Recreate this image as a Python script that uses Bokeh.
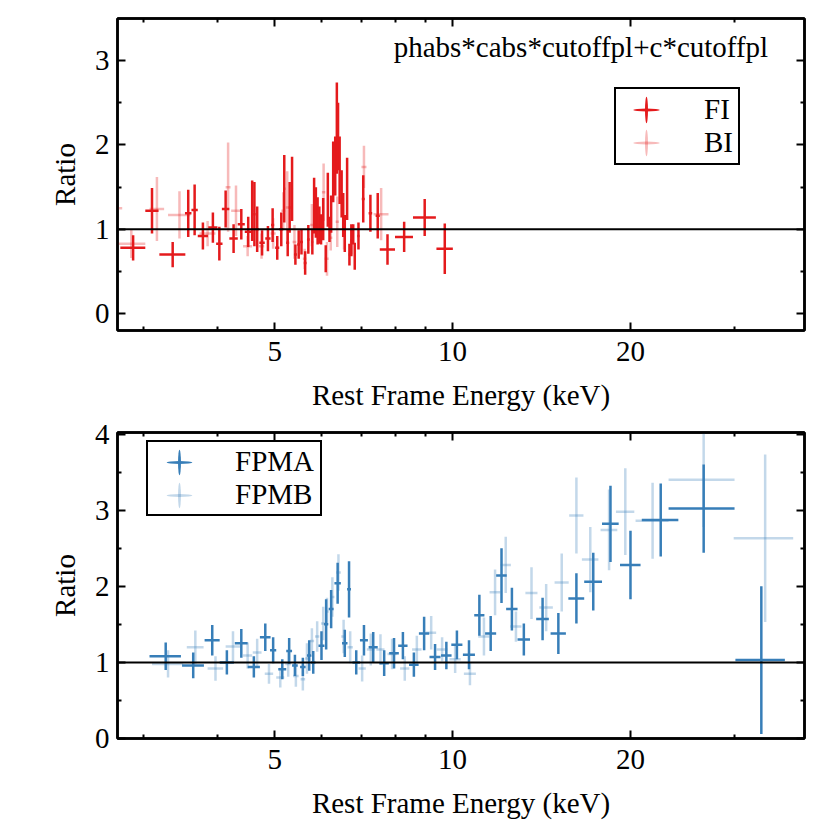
import numpy as np
from bokeh.plotting import figure
from bokeh.models import (ColumnDataSource, Range1d, FixedTicker, LinearAxis, LogAxis,
                          BasicTickFormatter, CustomJSTickFormatter, Span, Legend,
                          LegendItem, Label)
from bokeh.layouts import column
from bokeh.embed import file_html
from bokeh.resources import INLINE

# ---------------- data ----------------
# Top panel: XIS FI
fi_e = [2.88, 3.10, 3.36, 3.57, 3.66, 3.78, 3.93, 4.03, 4.13, 4.26, 4.39, 4.51, 4.58, 4.62,
        4.67, 4.76, 4.87, 4.96, 5.05, 5.13, 5.19, 5.26, 5.30, 5.35, 5.42, 5.49, 5.55, 5.63,
        5.70, 5.79, 5.83, 5.87, 5.91, 5.95, 5.99, 6.04, 6.10, 6.15, 6.19, 6.23, 6.28, 6.33,
        6.37, 6.40, 6.44, 6.49, 6.53, 6.57, 6.63, 6.69, 6.74, 6.79, 6.83, 6.93, 7.06, 7.26,
        7.47, 7.76, 8.28, 8.97, 9.70]
fi_de = [0.14, 0.08, 0.17, 0.045, 0.045, 0.075, 0.07, 0.05, 0.06, 0.07, 0.06, 0.06, 0.02, 0.02,
         0.03, 0.05, 0.05, 0.03, 0.04, 0.04, 0.02, 0.03, 0.02, 0.02, 0.03, 0.03, 0.03, 0.03,
         0.03, 0.02, 0.015, 0.015, 0.015, 0.015, 0.015, 0.02, 0.02, 0.02, 0.015, 0.015, 0.015, 0.015,
         0.015, 0.015, 0.015, 0.015, 0.015, 0.02, 0.02, 0.02, 0.02, 0.02, 0.02, 0.03, 0.04, 0.05,
         0.06, 0.23, 0.29, 0.40, 0.31]
fi_r = [0.78, 1.22, 0.70, 1.19, 1.23, 0.92, 1.02, 0.83, 1.24, 0.89, 1.06, 0.97, 1.22, 1.18,
        1.00, 0.84, 0.89, 1.05, 0.78, 1.00, 1.48, 0.84, 1.26, 1.48, 0.70, 0.82, 0.85, 0.60,
        0.88, 0.85, 1.28, 1.20, 1.10, 1.05, 1.00, 1.12, 0.65, 1.35, 1.00, 1.18, 1.68, 1.75,
        2.20, 2.10, 1.70, 1.42, 1.17, 0.95, 1.48, 0.70, 0.87, 0.94, 0.68, 0.92, 1.36, 1.19,
        1.16, 0.76, 0.91, 1.14, 0.77]
fi_dr = [0.15, 0.27, 0.15, 0.28, 0.30, 0.16, 0.18, 0.20, 0.22, 0.17, 0.18, 0.18, 0.36, 0.38,
         0.27, 0.15, 0.15, 0.20, 0.14, 0.20, 0.40, 0.16, 0.30, 0.38, 0.12, 0.17, 0.15, 0.14,
         0.17, 0.15, 0.33, 0.30, 0.28, 0.22, 0.18, 0.25, 0.16, 0.32, 0.15, 0.22, 0.36, 0.35,
         0.54, 0.40, 0.40, 0.28, 0.26, 0.22, 0.37, 0.13, 0.19, 0.12, 0.16, 0.16, 0.28, 0.22,
         0.27, 0.18, 0.18, 0.22, 0.30]

# Top panel: XIS BI
bi_e = [2.66, 2.86, 3.16, 3.45, 3.85, 4.17, 4.30, 4.50, 4.75, 4.97, 5.17, 5.25, 5.40, 5.62,
        5.78, 6.05, 6.13, 6.22, 6.38, 6.55, 6.75, 7.08, 7.57]
bi_de = [0.10, 0.16, 0.09, 0.15, 0.12, 0.04, 0.08, 0.08, 0.05, 0.05, 0.04, 0.03, 0.04, 0.04,
         0.04, 0.04, 0.04, 0.04, 0.04, 0.05, 0.05, 0.07, 0.22]
bi_r = [1.25, 0.83, 1.24, 1.17, 0.95, 1.50, 1.22, 0.80, 0.80, 0.95, 1.22, 1.26, 0.85, 0.65,
        1.05, 1.44, 0.65, 0.90, 1.09, 0.96, 0.85, 1.74, 1.18]
bi_dr = [0.20, 0.17, 0.38, 0.28, 0.15, 0.53, 0.30, 0.12, 0.15, 0.18, 0.22, 0.43, 0.20, 0.12,
         0.25, 0.34, 0.20, 0.15, 0.30, 0.20, 0.15, 0.25, 0.31]

# Bottom panel: NuSTAR FPMA
fa_e = [3.27, 3.64, 3.92, 4.15, 4.39, 4.61, 4.82, 4.97, 5.15, 5.29, 5.41, 5.58, 5.72, 5.81,
        6.00, 6.11, 6.23, 6.39, 6.57, 6.68, 6.87, 7.08, 7.34, 7.66, 7.96, 8.24, 8.60, 8.95,
        9.34, 9.76, 10.17, 10.66, 11.1, 11.6, 12.1, 12.6, 13.2, 14.2, 15.1, 16.2, 17.3, 18.5,
        20.0, 22.5, 26.6, 33.3]
fa_de = [0.20, 0.155, 0.115, 0.115, 0.11, 0.11, 0.10, 0.06, 0.08, 0.06, 0.06, 0.06, 0.05, 0.05,
         0.07, 0.05, 0.06, 0.08, 0.07, 0.05, 0.10, 0.11, 0.13, 0.14, 0.15, 0.15, 0.16, 0.18,
         0.20, 0.20, 0.22, 0.25, 0.22, 0.25, 0.25, 0.28, 0.32, 0.35, 0.45, 0.50, 0.60, 0.60,
         0.80, 1.60, 3.40, 3.20]
fa_r = [1.08, 0.96, 1.29, 1.00, 1.25, 0.94, 1.33, 1.16, 0.91, 1.15, 0.96, 0.94, 1.09, 1.00,
        1.22, 1.50, 1.70, 2.04, 1.25, 1.96, 1.00, 1.29, 1.20, 0.99, 1.12, 1.22, 0.97, 1.38,
        1.07, 1.09, 1.23, 1.10, 1.62, 1.38, 2.14, 1.70, 1.30, 1.57, 1.38, 1.84, 2.06, 2.82,
        2.28, 2.87, 3.02, 1.03]
fa_dr = [0.18, 0.17, 0.20, 0.16, 0.19, 0.14, 0.18, 0.17, 0.13, 0.17, 0.14, 0.12, 0.20, 0.15,
         0.19, 0.33, 0.25, 0.27, 0.18, 0.37, 0.16, 0.20, 0.20, 0.17, 0.20, 0.18, 0.16, 0.22,
         0.17, 0.18, 0.19, 0.19, 0.27, 0.23, 0.36, 0.28, 0.21, 0.28, 0.27, 0.33, 0.38, 0.50,
         0.45, 0.48, 0.58, 0.97]

# Bottom panel: NuSTAR FPMB
fb_e = [3.30, 3.67, 3.97, 4.25, 4.50, 4.67, 4.89, 5.11, 5.27, 5.43, 5.58, 5.67, 5.78, 5.90,
        6.04, 6.13, 6.26, 6.41, 6.54, 6.71, 7.03, 7.27, 7.55, 7.90, 8.30, 8.70, 9.20, 9.60,
        10.1, 10.7, 11.3, 11.8, 12.3, 12.8, 13.6, 14.4, 15.3, 16.2, 17.1, 18.4, 19.6, 21.8,
        26.6, 33.8]
fb_de = [0.20, 0.12, 0.12, 0.12, 0.08, 0.08, 0.08, 0.08, 0.06, 0.06, 0.05, 0.04, 0.05, 0.05,
         0.05, 0.04, 0.05, 0.06, 0.06, 0.07, 0.10, 0.11, 0.12, 0.14, 0.15, 0.16, 0.18, 0.20,
         0.22, 0.25, 0.25, 0.25, 0.25, 0.28, 0.32, 0.38, 0.42, 0.45, 0.55, 0.60, 0.70, 1.40,
         3.40, 3.90]
fb_r = [0.98, 1.20, 0.92, 1.21, 1.09, 1.13, 0.85, 0.80, 0.98, 0.82, 0.78, 1.05, 1.28, 1.34,
        1.51, 1.67, 1.86, 2.18, 1.34, 1.20, 0.92, 1.17, 1.17, 1.11, 0.92, 1.17, 1.39, 1.17,
        1.04, 0.85, 1.34, 1.92, 2.28, 1.47, 1.91, 1.72, 2.05, 2.93, 2.35, 2.74, 2.98, 2.86,
        3.40, 2.63]
fb_dr = [0.18, 0.22, 0.16, 0.20, 0.17, 0.18, 0.13, 0.13, 0.17, 0.14, 0.15, 0.20, 0.17, 0.20,
         0.22, 0.18, 0.26, 0.24, 0.22, 0.21, 0.17, 0.21, 0.20, 0.20, 0.16, 0.18, 0.22, 0.16,
         0.18, 0.15, 0.25, 0.30, 0.37, 0.20, 0.34, 0.31, 0.38, 0.50, 0.43, 0.53, 0.57, 0.50,
         0.62, 1.10]

model_text = "phabs*cabs*cutoffpl+c*cutoffpl"
x_label = "Rest Frame Energy (keV)"
y_label = "Ratio"
x_major = [5, 10, 20]
x_minor = [3, 4, 6, 7, 8, 9, 30]

# ---------------- style ----------------
FONT = "Liberation Serif"
FS = "29px"
RED = "#e41a1c"
BLUE = "#377eb8"
LIGHT = 0.3
LW = 2.5


def style_axis(ax, labels=True):
    ax.axis_line_color = "black"
    ax.axis_line_width = 2.5
    ax.major_tick_line_color = "black"
    ax.minor_tick_line_color = "black"
    ax.major_tick_line_width = 2
    ax.minor_tick_line_width = 2
    ax.major_tick_in = 8
    ax.major_tick_out = 0
    ax.minor_tick_in = 4
    ax.minor_tick_out = 0
    ax.major_label_text_font = FONT
    ax.axis_label_text_font = FONT
    ax.axis_label_text_font_size = FS
    ax.axis_label_text_font_style = "normal"
    ax.axis_label_text_color = "black"
    ax.major_label_text_color = "black"
    if labels:
        ax.major_label_text_font_size = FS
        ax.major_label_standoff = 8
    else:
        ax.major_label_text_font_size = "1px"
        ax.major_label_standoff = 0
        ax.formatter = CustomJSTickFormatter(code="return ''")


def make_fig(height, y0, y1, yticks, yminor, top_b, bottom_b):
    p = figure(width=822, height=height, x_axis_type="log",
               x_range=Range1d(2.71, 39.4), y_range=Range1d(y0, y1),
               output_backend="svg", toolbar_location=None,
               min_border_left=117, min_border_right=18, min_border_top=top_b,
               min_border_bottom=bottom_b, background_fill_color="white",
               border_fill_color="white")
    p.xgrid.visible = False
    p.ygrid.visible = False
    p.outline_line_color = "black"
    p.outline_line_width = 2.5
    xt = FixedTicker(ticks=x_major, minor_ticks=x_minor)
    yt = FixedTicker(ticks=yticks, minor_ticks=yminor)
    p.xaxis.ticker = xt
    p.yaxis.ticker = yt
    p.xaxis.formatter = BasicTickFormatter()
    p.xaxis.axis_label = x_label
    p.yaxis.axis_label = y_label
    for ax in p.xaxis:
        style_axis(ax)
        ax.major_label_standoff = 11
        ax.axis_label_standoff = 15
    for ax in p.yaxis:
        style_axis(ax)
        ax.axis_label_standoff = 11
    top = LogAxis(ticker=xt)
    style_axis(top, labels=False)
    right = LinearAxis(ticker=yt)
    style_axis(right, labels=False)
    p.add_layout(top, "above")
    p.add_layout(right, "right")
    p.add_layout(Span(location=1, dimension="width", line_color="black", line_width=2))
    return p


def add_series(p, e, de, r, dr, color, alpha):
    e = np.asarray(e, float); de = np.asarray(de, float)
    r = np.asarray(r, float); dr = np.asarray(dr, float)
    src = ColumnDataSource(dict(e=e, elo=e - de, ehi=e + de, r=r, rlo=r - dr, rhi=r + dr))
    p.segment(x0="elo", x1="ehi", y0="r", y1="r", source=src,
              line_color=color, line_alpha=alpha, line_width=LW)
    p.segment(x0="e", x1="e", y0="rlo", y1="rhi", source=src,
              line_color=color, line_alpha=alpha, line_width=LW)
    # legend proxies (cross glyph), kept outside the visible x-range
    xs = p.x_range.start * 0.5
    hs = p.ellipse(x=[xs], y=[1.0], width=26.4, height=3.0, width_units="screen",
                   height_units="screen", fill_color=color, fill_alpha=alpha, line_color=None)
    vs = p.ellipse(x=[xs], y=[1.0], width=3.0, height=26.4, width_units="screen",
                   height_units="screen", fill_color=color, fill_alpha=alpha, line_color=None)
    return [hs, vs]


def make_legend(items, loc, gw, gh, pad, standoff, lw):
    return Legend(items=[LegendItem(label=lab, renderers=rs) for lab, rs in items],
                  location=loc, orientation="vertical", padding=pad, spacing=0, margin=0,
                  glyph_width=gw, glyph_height=gh, label_height=gh, label_width=lw,
                  label_standoff=standoff,
                  label_text_font=FONT, label_text_font_size=FS, label_text_baseline="middle",
                  label_text_color="black",
                  border_line_color="black", border_line_width=2, border_line_alpha=1,
                  background_fill_color="white", background_fill_alpha=1)


# ---------------- top panel ----------------
p1 = make_fig(414, -0.2, 3.5, [0, 1, 2, 3], [0.5, 1.5, 2.5], 18, 84)
bi_r_ = add_series(p1, bi_e, bi_de, bi_r, bi_dr, RED, LIGHT)
fi_r_ = add_series(p1, fi_e, fi_de, fi_r, fi_dr, RED, 1.0)
p1.add_layout(make_legend([("FI", fi_r_), ("BI", bi_r_)], (497, 165), 52, 33, 4, 32, 30))
p1.add_layout(Label(x=34.2, y=3.16, text=model_text, text_align="right",
                    text_baseline="middle", text_font=FONT, text_font_size=FS,
                    text_color="black"))

# ---------------- bottom panel ----------------
p2 = make_fig(408, 0, 4.02, [0, 1, 2, 3, 4], [0.5, 1.5, 2.5, 3.5], 18, 84)
fb_r_ = add_series(p2, fb_e, fb_de, fb_r, fb_dr, BLUE, LIGHT)
fa_r_ = add_series(p2, fa_e, fa_de, fa_r, fa_dr, BLUE, 1.0)
p2.add_layout(make_legend([("FPMA", fa_r_), ("FPMB", fb_r_)], (29, 222), 56, 32, 3, 28, 82))

layout = column(p1, p2, spacing=0)
open("out.html", "w").write(file_html(layout, INLINE))
